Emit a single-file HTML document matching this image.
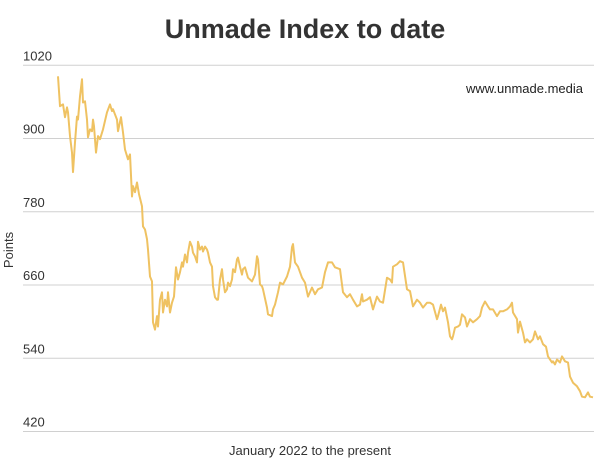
<!DOCTYPE html>
<html><head><meta charset="utf-8"><style>
body{margin:0;background:#fff;width:610px;height:465px;overflow:hidden;font-family:"Liberation Sans",sans-serif}
</style></head><body>
<svg id="chart" width="610" height="465" xmlns="http://www.w3.org/2000/svg">
<text x="305" y="38" text-anchor="middle" font-size="27" font-weight="bold" fill="#333">Unmade Index to date</text>
<g id="grid"></g>
<g id="ticks"></g>
<text x="583" y="93" text-anchor="end" font-size="13" fill="#222">www.unmade.media</text>
<text transform="translate(13,250) rotate(-90)" text-anchor="middle" font-size="13" fill="#333">Points</text>
<text x="310" y="455" text-anchor="middle" font-size="13" fill="#333">January 2022 to the present</text>
<path id="line" fill="none" stroke="#efc262" stroke-width="2" stroke-linejoin="round"></path>
</svg>
<script>
const yTicks=[420,540,660,780,900,1020];
const days=[0,2,5,7,9,10,12,14,15,17,19,20,22,24,25,27,29,30,32,34,35,36,38,40,42,45,49,52,54,55,59,60,63,65,67,70,72,74,75,77,79,81,84,85,87,89,90,92,94,95,97,99,100,102,104,105,107,109,110,112,114,116,118,120,122,124,125,127,129,130,132,134,135,137,139,140,142,144,145,147,149,150,152,154,155,157,159,160,162,164,165,167,169,170,172,174,175,177,179,180,182,184,
185,187,190,194,197,199,200,202,204,205,209,210,214,215,217,220,222,225,229,232,234,235,237,240,244,247,250,254,257,260,264,267,270,274,277,282,285,289,292,295,299,302,304,305,309,312,315,319,322,325,329,332,334,335,339,342,345,349,352,355,359,
362,365,369,372,375,379,380,383,385,387,390,392,394,395,397,400,402,404,407,409,412,415,419,422,424,427,430,432,435,439,442,445,449,452,454,455,459,460,462,465,467,469,472,475,477,480,482,485,488,490,494,495,497,499,502,504,507,510,512,515,519,522,524,527,530,532,535];
const points=[1002,953,956,935,951,943,904,877,845,894,936,931,969,997,959,961,931,902,915,912,931,920,877,904,899,915,943,956,945,948,931,912,935,910,882,866,874,805,822,812,828,809,789,756,751,735,718,674,666,599,587,609,592,636,648,615,636,625,648,615,631,641,689,669,681,697,690,710,697,713,731,723,713,707,697,731,718,723,715,723,718,713,697,690,658,640,636,636,669,686,669,648,653,664,658,669,686,681,702,705,690,677,
686,689,672,666,677,707,702,661,658,653,623,612,609,620,628,648,664,661,674,690,722,727,697,690,672,664,641,656,645,653,656,681,697,697,689,686,648,640,645,636,625,628,645,633,636,640,620,641,633,631,672,669,664,690,694,699,697,653,650,625,636,
631,623,631,631,628,604,609,628,617,623,599,576,571,576,590,592,595,612,607,592,604,599,604,609,623,633,625,620,620,609,617,617,620,625,631,615,604,582,600,582,566,571,566,571,584,571,576,563,559,543,533,535,530,538,533,543,535,533,510,500,494,486,477,476,484,477,476];
const X0=58,X1=593,Y0=431.5,Y1=65.3;
const xS=d=>X0+(d-days[0])/(days[days.length-1]-days[0])*(X1-X0);
const yS=v=>Y0+(v-420)/(1020-420)*(Y1-Y0);
const NS="http://www.w3.org/2000/svg";
const grid=document.getElementById('grid'),ticks=document.getElementById('ticks');
yTicks.forEach(t=>{
 const l=document.createElementNS(NS,'line');
 
 
 l.setAttribute('x1',23);l.setAttribute('x2',594);
 l.setAttribute('y1',yS(t));l.setAttribute('y2',yS(t));
 l.setAttribute('stroke','#d0d0d0');l.setAttribute('stroke-width','1');
 grid.appendChild(l);
 const tx=document.createElementNS(NS,'text');
 
 
 tx.setAttribute('x',23);tx.setAttribute('y',yS(t)-5);
 tx.setAttribute('font-size','13');tx.setAttribute('fill','#333');
 tx.textContent=t;ticks.appendChild(tx);
});
document.getElementById('line').setAttribute('d',points.map((v,i)=>(i?'L':'M')+xS(days[i]).toFixed(1)+','+yS(v).toFixed(1)).join(''));
</script>
</body></html>
